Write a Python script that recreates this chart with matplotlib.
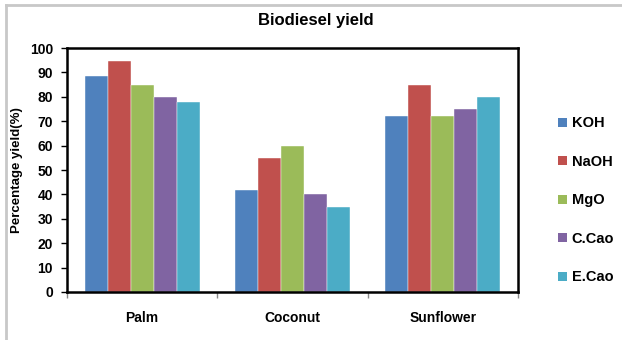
import matplotlib.pyplot as plt
import numpy as np
from matplotlib.lines import Line2D
from matplotlib.patches import Patch

plt.rcParams['font.family'] = ['Liberation Sans', 'DejaVu Sans']
plt.rcParams['font.weight'] = 'bold'

oils = ['Palm', 'Coconut', 'Sunflower']
catalysts = ['KOH', 'NaOH', 'MgO', 'C.Cao', 'E.Cao']
koh = [88.5, 42, 72]
naoh = [94.5, 55, 85]
mgo = [85, 60, 72]
c_cao = [80, 40, 75]
e_cao = [78, 35, 80]
yticks = [0, 10, 20, 30, 40, 50, 60, 70, 80, 90, 100]

series = [koh, naoh, mgo, c_cao, e_cao]
colors = ['#4F81BD', '#C0504D', '#9BBB59', '#8064A2', '#4BACC6']

fig = plt.figure(figsize=(6.22, 3.40), dpi=100)
ax = fig.add_axes([0.1077, 0.1412, 0.7251, 0.7176])

x = np.arange(len(oils))
group = 0.765
w = group / len(series)
for i, (vals, col) in enumerate(zip(series, colors)):
    ax.bar(x - group / 2 + w * (i + 0.5), vals, width=w, color=col,
           edgecolor='white', linewidth=0.3, label=catalysts[i], zorder=2)

ax.set_xlim(-0.5, len(oils) - 0.5)
ax.set_ylim(0, 100)
ax.set_yticks(yticks)
ax.set_yticklabels([str(t) for t in yticks], fontsize=10, fontweight='bold')
ax.tick_params(axis='y', direction='out', length=4, width=1, pad=6)

ax.set_xticks(x)
ax.set_xticklabels(oils, fontsize=10, fontweight='bold')
ax.tick_params(axis='x', which='major', length=0, pad=14)
ax.set_xticks(np.arange(-0.5, len(oils), 1.0), minor=True)
ax.tick_params(axis='x', which='minor', direction='out', length=4, width=1, color='#888888')

for s in ax.spines.values():
    s.set_linewidth(1.8)
    s.set_color('black')

fig.text(17.5 / 622, 0.5, 'Percentage yield(%)', rotation=90, ha='center', va='center',
         fontsize=9.5, fontweight='bold')
fig.text(0.508, 0.94, 'Biodiesel yield', ha='center', va='center',
         fontsize=12, fontweight='bold')

handles = [Patch(facecolor=c, edgecolor='none') for c in colors]
fig.legend(handles, catalysts, loc='upper left', bbox_to_anchor=(0.897, 0.658),
           frameon=False, handlelength=0.6, handleheight=0.6,
           handletextpad=0.35, labelspacing=1.68, borderaxespad=0, borderpad=0,
           prop={'weight': 'bold', 'size': 10.5})

# light grey frame lines along the top and left edge of the figure
fig.add_artist(Line2D([6 / 622, 1.0], [1 - 5 / 340, 1 - 5 / 340],
                      transform=fig.transFigure, color='#c8c8c8', linewidth=2))
fig.add_artist(Line2D([6 / 622, 6 / 622], [0, 1 - 5 / 340],
                      transform=fig.transFigure, color='#c8c8c8', linewidth=2))

fig.savefig('out.png', dpi=100)
